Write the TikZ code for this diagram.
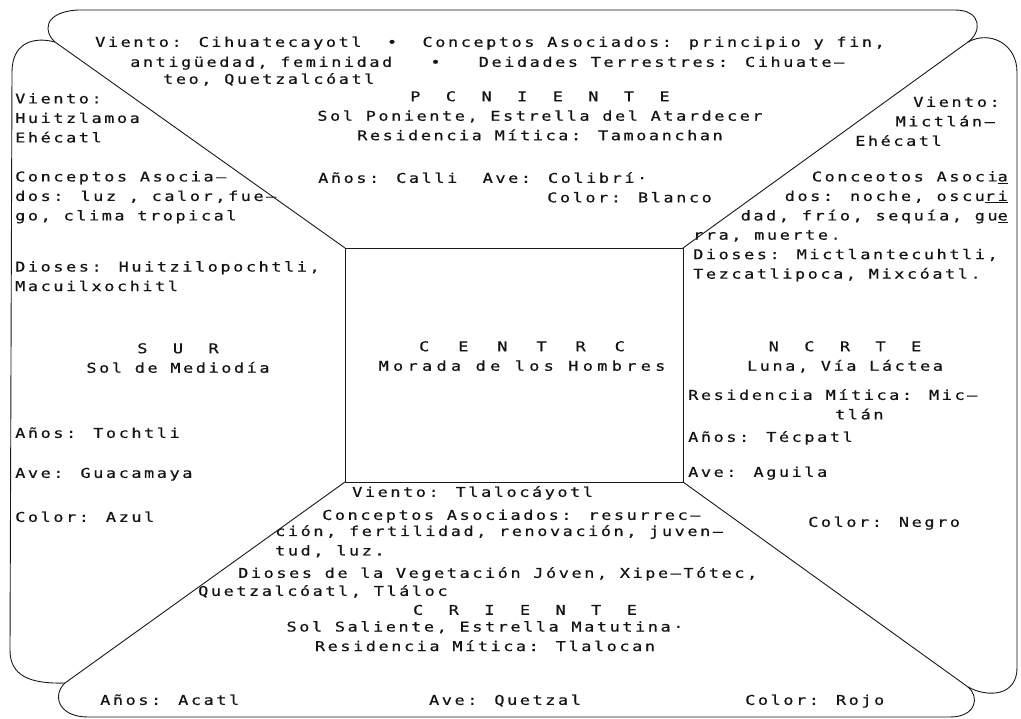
\documentclass[tikz,border=0pt]{standalone}
\usepackage{fontspec}
\usepackage{tikz}
\usetikzlibrary{positioning}
\newfontfamily\typed[FakeStretch=1.25,LetterSpace=19,FakeBold=0.5]{DejaVu Sans Mono}
\newfontfamily\typedancho[FakeStretch=1.25,LetterSpace=32,FakeBold=0.5]{DejaVu Sans Mono}
\definecolor{tinta}{rgb}{0.08,0.08,0.08}
\definecolor{trazo}{rgb}{0.1,0.1,0.1}

\begin{document}
\begin{tikzpicture}[line cap=round,line join=round,x=1pt,y=-1pt,
  txt/.style={font=\typed\fontsize{13.5}{19.5}\selectfont, text=tinta, inner sep=0pt,
    execute at begin node=\strut},
  ancho/.style={font=\typedancho\fontsize{13.5}{19.5}\selectfont},
  izq/.style={txt, anchor=north west, align=left},
  der/.style={txt, anchor=north east, align=right},
  cen/.style={txt, anchor=north, align=center},
  borde/.style={draw=trazo, line width=0.9pt}]
\useasboundingbox (0,0) rectangle (1021,719);
\fill[white] (0,0) rectangle (1021,719);

% centro
\coordinate (c1) at (345,248);
\coordinate (c2) at (683,248);
\coordinate (c3) at (683,482);
\coordinate (c4) at (345,482);
% esquinas exteriores
\coordinate (tl) at (55,42);
\coordinate (tr) at (968,42);
\coordinate (bl) at (65,683);
\coordinate (br) at (968,687);

\draw[borde] (c1) -- (tl) .. controls (44,33) and (42,12) .. (78,10) -- (955,10) .. controls (982,10) and (982,32) .. (tr) -- (c2);
\draw[borde] (tl) .. controls (32,36) and (12,44) .. (12,72) -- (10,650) .. controls (10,676) and (30,684) .. (bl) -- (c4);
\draw[borde] (bl) .. controls (52,695) and (58,717) .. (88,717) -- (950,717) .. controls (976,717) and (980,697) .. (br) -- (c3);
\draw[borde] (br) .. controls (988,698) and (1017,696) .. (1017,668) -- (1017,72) .. controls (1017,44) and (990,30) .. (tr);
\draw[borde] (c1) rectangle (c3);

% poniente
\node[izq] (ponienteA) at (95,33) {Viento: Cihuatecayotl~ •~ Conceptos Asociados: principio y fin,};
\node[izq] (ponienteB) at (130,53) {antigüedad, feminidad~~ •~~ Deidades Terrestres: Cihuate–};
\node[izq] (ponienteC) at (163,70) {teo, Quetzalcóatl};
\node[cen] (poniente) at (540,91) {P~ C~ N~ I~ E~ N~ T~ E\\Sol Poniente, Estrella del Atardecer\\Residencia Mítica: Tamoanchan};
\node[izq] (ponienteD) at (318,169) {Años: Calli~ Ave: Colibrí·};
\node[der] (ponienteE) at (712,188.5) {Color: Blanco};

% sur
\node[izq] (surA) at (15,93) {Viento:\\Huitzlamoa\\Ehécatl};
\node[izq] (surB) at (15,171) {Conceptos Asocia–\\dos: luz , calor,fue–\\go, clima tropical};
\node[izq] (surC) at (15,261) {Dioses: Huitzilopochtli,\\Macuilxochitl};
\node[cen] (sur) at (178,343) {S~ U~ R\\Sol de Mediodía};
\node[izq] (surD) at (15,424) {Años: Tochtli};
\node[izq] (surE) at (15,464) {Ave: Guacamaya};
\node[izq] (surF) at (15,508) {Color: Azul};

% centro
\node[cen, ancho] (centro) at (522,341) {C~ E~ N~ T~ R~ C\\Morada de los Hombres};

% norte
\node[der] (norteA) at (1000,93) {Viento:};
\node[der] (norteB) at (995,112.5) {Mictlán–};
\node[izq] (norteC) at (855,132) {Ehécatl};
\node[der] (norteD) at (1008,171) {Conceotos Asoci\underline{a}\\dos: noche, oscu\underline{ri}\\dad, frío, sequía, gu\underline{e}};
\node[izq] (norteE) at (693,230) {rra, muerte.\\Dioses: Mictlantecuhtli,\\Tezcatlipoca, Mixcóatl.};
\node[cen] (norte) at (845,341) {N~ C~ R~ T~ E\\Luna, Vía Láctea};
\node[izq] (norteF) at (688,386) {Residencia Mítica: Mic–};
\node[izq] (norteG) at (835,405.5) {tlán};
\node[izq] (norteH) at (688,428) {Años: Técpatl};
\node[izq] (norteI) at (688,463) {Ave: Aguila};
\node[izq] (norteJ) at (808,513) {Color: Negro};

% oriente
\node[izq] (orienteA) at (352,483) {Viento: Tlalocáyotl};
\node[izq] (orienteB) at (322,506) {Conceptos Asociados: resurrec–};
\node[izq] (orienteC) at (275,525) {ción, fertilidad, renovación, juven–\\tud, luz.};
\node[izq] (orienteD) at (238,564) {Dioses de la Vegetación Jóven, Xipe–Tótec,};
\node[izq] (orienteE) at (198,582) {Quetzalcóatl, Tláloc};
\node[cen] (oriente) at (525,601) {C~ R~ I~ E~ N~ T~ E};
\node[cen] (orienteF) at (485,621) {Sol Saliente, Estrella Matutina·\\Residencia Mítica: Tlalocan};
\node[izq] (orienteG) at (100,691) {Años: Acatl};
\node[cen] (orienteH) at (505,691) {Ave: Quetzal};
\node[izq] (orienteI) at (745,691) {Color: Rojo};
\end{tikzpicture}
\end{document}
